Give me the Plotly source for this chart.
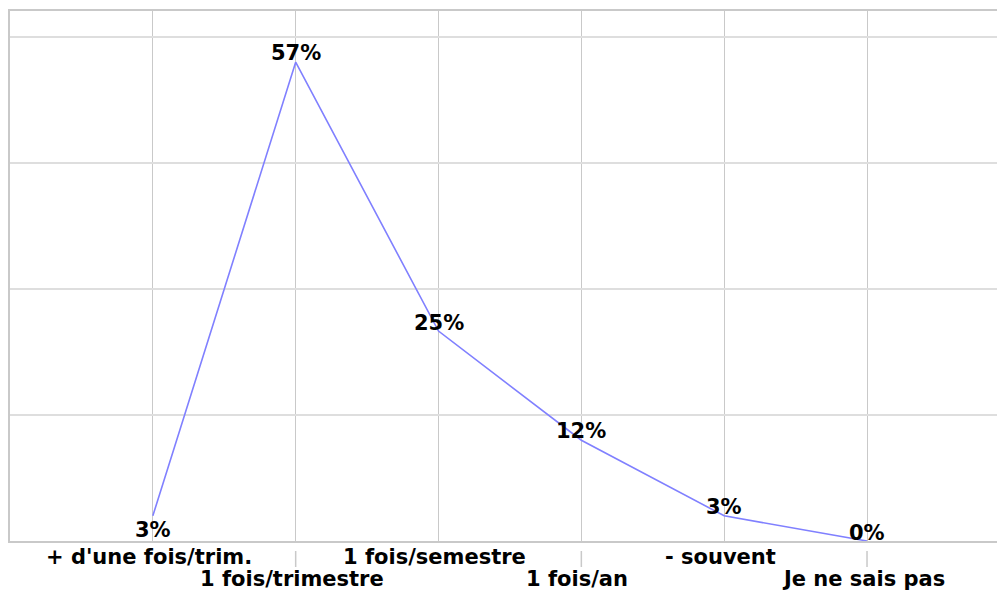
import plotly.graph_objects as go

# Fréquence déclarée (en %)
categories = ["+ d'une fois/trim.", "1 fois/trimestre", "1 fois/semestre",
              "1 fois/an", "- souvent", "Je ne sais pas"]
values = [3, 57, 25, 12, 3, 0]

# vertical offset (px) of each value label relative to its point
label_shifts = [-14, 9, 8, 9, 9, 8]

FONT = "DejaVu Sans"
SIZE = 21
GRID_V = "#c9c9c9"
GRID_H = "#dedede"

fig = go.Figure()
fig.add_trace(go.Scatter(
    x=categories,
    y=values,
    mode="lines",
    line=dict(color="#8080ff", width=1.6),
    hoverinfo="skip",
))

annotations = []
shapes = []

# value labels
for cat, v, dy in zip(categories, values, label_shifts):
    annotations.append(dict(
        x=cat, xref="x", y=v, yref="y", yanchor="middle",
        yshift=dy, text=f"{v}%", showarrow=False,
        font=dict(family=FONT, size=SIZE, color="black", weight="bold"),
    ))

# category labels on two alternating rows, with small separators
for i, cat in enumerate(categories):
    row2 = i % 2 == 1
    annotations.append(dict(
        x=cat, xref="x", y=0, yref="paper", yanchor="middle",
        yshift=-38 if row2 else -16, xshift=-4,
        text=cat, showarrow=False,
        font=dict(family=FONT, size=SIZE, color="black", weight="bold"),
    ))
    if row2:
        shapes.append(dict(
            type="line", xref="x", yref="paper",
            x0=i, x1=i, y0=-10 / 530, y1=-26 / 530,
            line=dict(color=GRID_V, width=1.5),
        ))

fig.update_layout(
    width=997, height=590,
    margin=dict(l=10, r=0, t=11, b=49),
    paper_bgcolor="white", plot_bgcolor="white",
    showlegend=False,
    annotations=annotations,
    shapes=shapes,
    xaxis=dict(
        type="category",
        range=[-1, 5.91],
        showgrid=True, gridcolor=GRID_V, gridwidth=1,
        showline=True, linecolor=GRID_V, linewidth=1.5, mirror=True,
        showticklabels=False, ticks="", zeroline=False,
    ),
    yaxis=dict(
        range=[0, 63.1],
        tickvals=[0, 15, 30, 45, 60],
        showgrid=True, gridcolor=GRID_H, gridwidth=1.5,
        showline=True, linecolor=GRID_V, linewidth=1.5,
        showticklabels=False, ticks="", zeroline=False,
    ),
)

fig.write_html("out.html")
